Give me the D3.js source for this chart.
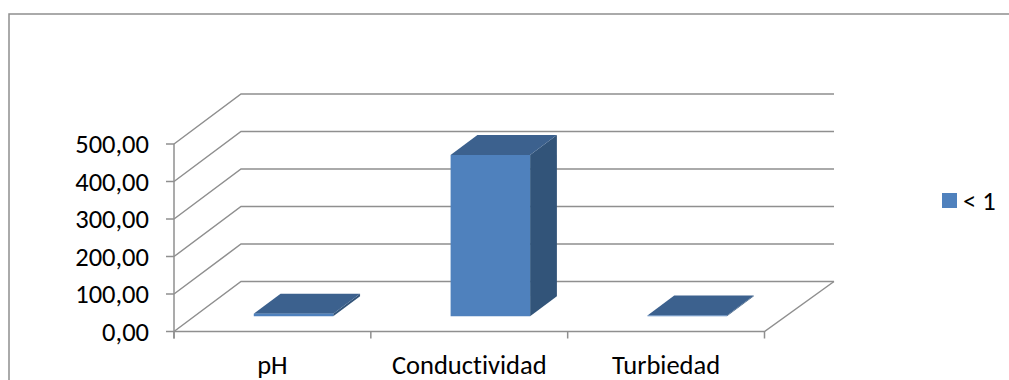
<!DOCTYPE html>
<html>
<head>
<meta charset="utf-8">
<script src="https://cdn.jsdelivr.net/npm/d3@7"></script>
<style>
html,body{margin:0;padding:0;background:#fff}
svg{display:block}
text{font-family:Carlito,Calibri,"Open Sans","Noto Sans",sans-serif;fill:#000;font-variant-ligatures:none}
</style>
</head>
<body>
<svg id="chart" width="1009" height="380"></svg>
<script>
const categories = ["pH", "Conductividad", "Turbiedad"];
const seriesValues = [7, 430, 2];
const seriesName = "< 1";
const yTicks = [0, 100, 200, 300, 400, 500];

const svg = d3.select("#chart");
const GRID = "#8f8f8f";

// Oblique projection: the floor recedes up and to the right.
const depthX = 67, depthY = -50;
const x = d3.scaleBand().domain(categories).range([174, 764.5]).paddingInner(0).paddingOuter(0);
const y = d3.scaleLinear().domain([0, 500]).range([331.5, 144]);
const barW = 79.5;
const nearX = 0.315, nearY = 0.305, barDepth = 0.4;
const formatTick = v => d3.format(".2f")(v).replace(".", ",");
const pts = a => a.map(p => p.join(",")).join(" ");

// Chart frame: open on the right and running off the bottom edge
svg.append("path")
  .attr("d", "M9,380V14H1009")
  .attr("fill", "none").attr("stroke", "#8f8f8f").attr("stroke-width", 1.5);

const grid = svg.append("g").attr("fill", "none").attr("stroke", GRID).attr("stroke-width", 1.5);
const x0 = x.range()[0], x1 = x.range()[1];

// Back-wall gridlines and their diagonals on the side wall
yTicks.forEach(t => {
  const yy = y(t);
  grid.append("path").attr("d", `M${x0},${yy}L${x0 + depthX},${yy + depthY}H834`);
  grid.append("line").attr("x1", x0 - 8).attr("x2", x0).attr("y1", yy).attr("y2", yy);
});

// Value axis line and floor outline
grid.append("line").attr("x1", x0).attr("x2", x0).attr("y1", y(500)).attr("y2", y(0) + 7);
grid.append("path").attr("d", `M${x0},${y(0)}H${x1}L834,${y(0) + depthY}`);

// Category ticks
[x0, x0 + x.step(), x0 + 2 * x.step(), x1].forEach(tx => {
  grid.append("line").attr("x1", tx).attr("x2", tx).attr("y1", y(0)).attr("y2", y(0) + 7);
});

// Value labels
svg.append("g").selectAll("text").data(yTicks).join("text")
  .attr("x", 149).attr("y", d => y(d)).attr("dy", "0.35em")
  .attr("text-anchor", "end").attr("font-size", 26.5)
  .text(formatTick);

// Category labels
svg.append("g").selectAll("text").data(categories).join("text")
  .attr("x", d => x(d) + x.bandwidth() / 2)
  .attr("y", 365).attr("dy", "0.33em")
  .attr("text-anchor", "middle").attr("font-size", 26.5)
  .text(d => d);

// Bars: front, side and top faces
const bars = svg.append("g").selectAll("g")
  .data(categories.map((c, i) => ({c, v: seriesValues[i]}))).join("g");

const geom = d => {
  const left = x(d.c) + x.bandwidth() / 2 - barW / 2 + nearX * depthX;
  const base = y(0) + nearY * depthY;
  const top = base - (y(0) - y(d.v));
  const dx = barDepth * depthX, dy = barDepth * depthY;
  return {left, right: left + barW, base, top, dx, dy};
};

bars.append("polygon").attr("fill", "#325479").attr("points", d => {
  const g = geom(d);
  return pts([[g.right, g.top], [g.right + g.dx, g.top + g.dy], [g.right + g.dx, g.base + g.dy], [g.right, g.base]]);
});
bars.append("polygon").attr("fill", "#3c618e").attr("points", d => {
  const g = geom(d);
  return pts([[g.left, g.top], [g.left + g.dx, g.top + g.dy], [g.right + g.dx, g.top + g.dy], [g.right, g.top]]);
});
bars.append("rect").attr("fill", "#4f81bd")
  .attr("x", d => geom(d).left).attr("y", d => geom(d).top)
  .attr("width", barW).attr("height", d => geom(d).base - geom(d).top);

// Legend
svg.append("rect").attr("x", 942).attr("y", 193).attr("width", 15).attr("height", 15).attr("fill", "#4f81bd");
svg.append("text").attr("x", 963).attr("y", 201).attr("dy", "0.33em").attr("font-size", 26.5).text(seriesName);
</script>
</body>
</html>
